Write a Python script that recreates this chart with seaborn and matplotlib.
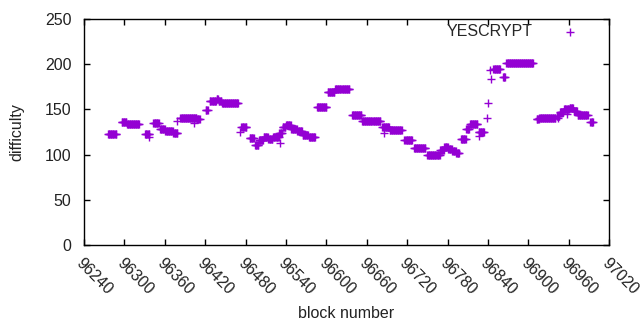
import numpy as np
import pandas as pd
import matplotlib
matplotlib.use("Agg")
import matplotlib.pyplot as plt
import matplotlib.transforms as mtransforms
import seaborn as sns

# runs of blocks that share (about) the same difficulty
run_first = [96276, 96296, 96304, 96331, 96343, 96353, 96361, 96373, 96383, 96408,
             96421, 96427, 96437, 96440, 96445, 96474, 96486, 96494, 96500, 96507,
             96514, 96521, 96530, 96535, 96540, 96548, 96557, 96565, 96574, 96586,
             96602, 96613, 96638, 96653, 96683, 96694, 96716, 96730, 96750, 96769,
             96775, 96781, 96787, 96793, 96800, 96808, 96813, 96826, 96848, 96862,
             96867, 96912, 96916, 96942, 96947, 96953, 96961, 96967, 96973, 96992]
run_last = [96288, 96303, 96322, 96337, 96351, 96360, 96372, 96379, 96407, 96412,
            96424, 96436, 96439, 96444, 96469, 96481, 96492, 96499, 96506, 96513,
            96520, 96529, 96534, 96539, 96547, 96556, 96564, 96573, 96583, 96600,
            96612, 96634, 96652, 96680, 96693, 96712, 96727, 96747, 96768, 96774,
            96780, 96786, 96792, 96797, 96807, 96812, 96824, 96834, 96858, 96865,
            96907, 96915, 96940, 96946, 96952, 96960, 96966, 96972, 96988, 96996]
run_value = [123, 136, 134, 123, 135, 128, 126, 124, 141, 139,
             149, 159, 162, 159, 157, 131, 118, 111, 116, 119,
             117, 119, 124, 130, 133, 128, 126, 122, 119, 153,
             169, 173, 144, 137, 131, 127, 116, 107, 100, 105,
             108, 106, 104, 102, 117, 128, 134, 125, 195, 186,
             201, 139, 141, 143, 147, 150, 152, 148, 144, 136]

# single stray points
extra_block = [96336, 96378, 96403, 96472, 96531, 96686, 96827, 96838, 96840, 96843, 96845, 96944, 96957]
extra_value = [119, 137, 135, 125, 113, 124, 121, 141, 157, 194, 184, 140, 145]

xticks = list(range(96240, 97021, 60))
yticks = [0, 50, 100, 150, 200, 250]

blocks = np.concatenate([np.arange(f, l + 1) for f, l in zip(run_first, run_last)] + [np.array(extra_block)])
values = np.concatenate([np.repeat(v, l - f + 1) for f, l, v in zip(run_first, run_last, run_value)] + [np.array(extra_value)])
df = pd.DataFrame({"block": blocks, "difficulty": values}).sort_values("block")

sns.set_style("white")
plt.rcParams['font.family'] = ['Liberation Sans', 'DejaVu Sans']
plt.rcParams['font.size'] = 11.5

fig, ax = plt.subplots(figsize=(6.4, 3.3), dpi=100)
fig.subplots_adjust(left=0.131, right=0.952, top=0.942, bottom=0.258)

sns.scatterplot(data=df, x="block", y="difficulty", marker="+", color="#9400d3",
                s=40, linewidth=1.0, label="YESCRYPT", ax=ax)

ax.set_xlim(96240, 97020)
ax.set_ylim(0, 250)
ax.set_xticks(xticks)
ax.set_yticks(yticks)
ax.set_xticklabels([str(t) for t in xticks], rotation=-45, ha="left", va="top",
                   rotation_mode="anchor")
shift = mtransforms.ScaledTranslation(5 / 100, -1 / 100, fig.dpi_scale_trans)
for lab in ax.get_xticklabels():
    lab.set_transform(lab.get_transform() + shift)
ax.tick_params(direction="in", bottom=True, left=True, top=True, right=True,
               length=4, width=1, color="black", labelsize=11.5, colors="#222222")
ax.tick_params(axis="x", pad=8)
ax.tick_params(axis="y", pad=9)
for sp in ax.spines.values():
    sp.set_color("black")
    sp.set_linewidth(1)

ax.set_xlabel("block number", fontsize=11.5, color="#222222")
ax.set_ylabel("difficulty", fontsize=11.5, color="#222222")
ax.xaxis.set_label_coords(0.5, -0.27)
ax.yaxis.set_label_coords(-0.113, 0.5)

ax.legend(loc="upper right", bbox_to_anchor=(0.968, 1.005), borderaxespad=0, frameon=False,
          markerfirst=False, handletextpad=1.36, handlelength=2.0, fontsize=11.5)

plt.savefig("out.png", dpi=100)
